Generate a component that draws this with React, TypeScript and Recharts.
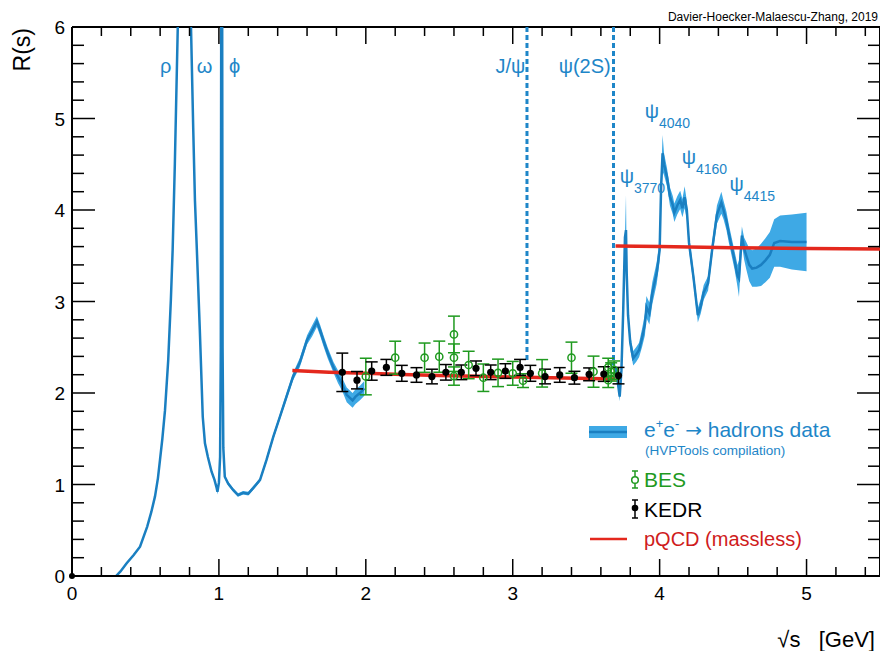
import React from 'react';
import {
  ComposedChart, Line, Area, Scatter, XAxis, YAxis, ErrorBar,
  ReferenceLine, ReferenceDot, Legend,
} from 'recharts';

const FONT = '"Liberation Sans", Arial, Helvetica, sans-serif';
const BLUE_LINE = '#1a7fc1';
const BLUE_BAND = '#3ea9e5';
const BLUE_TEXT = '#1e86c8';
const RED = '#e4281d';
const RED_TEXT = '#cf1c1c';
const GREEN = '#1f9a1f';

// e+e- -> hadrons compilation, low-energy part (sqrt(s) in GeV)
const lowX = [0.30, 0.33, 0.372, 0.42, 0.463, 0.512, 0.54, 0.565, 0.585, 0.599, 0.615, 0.633, 0.655, 0.673, 0.685, 0.70, 0.72, 0.74, 0.76, 0.775, 0.782, 0.786, 0.795, 0.81, 0.825, 0.837, 0.85, 0.87, 0.89, 0.905, 0.925, 0.95, 0.97, 0.985, 0.99, 1.0, 1.008, 1.013, 1.016, 1.019, 1.022, 1.025, 1.03, 1.04, 1.063, 1.097, 1.13, 1.165, 1.2, 1.233, 1.28, 1.324, 1.37, 1.415, 1.46, 1.505, 1.55, 1.6, 1.635, 1.667, 1.69, 1.71, 1.74, 1.78, 1.81, 1.84, 1.87, 1.89, 1.91, 1.93, 1.96, 1.99];
const lowR = [0.0, 0.05, 0.14, 0.23, 0.32, 0.54, 0.7, 0.87, 1.07, 1.27, 1.5, 1.81, 2.36, 3.02, 3.56, 4.5, 6.0, 7.6, 8.7, 9.0, 12.0, 8.6, 7.8, 6.0, 4.9, 4.1, 3.56, 2.69, 1.74, 1.45, 1.3, 1.14, 1.05, 0.96, 0.92, 1.02, 1.3, 2.5, 6.5, 40.0, 6.5, 2.5, 1.4, 1.085, 1.01, 0.94, 0.885, 0.91, 0.9, 0.96, 1.05, 1.27, 1.52, 1.74, 1.96, 2.18, 2.33, 2.58, 2.68, 2.78, 2.68, 2.58, 2.44, 2.28, 2.18, 2.09, 1.98, 1.95, 1.92, 1.96, 2.0, 2.05];
const lowErr = [0.01, 0.01, 0.01, 0.01, 0.01, 0.01, 0.02, 0.02, 0.02, 0.02, 0.02, 0.02, 0.03, 0.03, 0.03, 0.03, 0.05, 0.05, 0.05, 0.05, 0.05, 0.05, 0.05, 0.05, 0.05, 0.04, 0.04, 0.03, 0.03, 0.03, 0.02, 0.02, 0.02, 0.02, 0.03, 0.03, 0.03, 0.03, 0.05, 0.05, 0.05, 0.03, 0.03, 0.02, 0.02, 0.02, 0.02, 0.02, 0.02, 0.02, 0.02, 0.03, 0.03, 0.03, 0.04, 0.04, 0.05, 0.05, 0.06, 0.06, 0.06, 0.06, 0.06, 0.06, 0.07, 0.07, 0.08, 0.08, 0.08, 0.08, 0.08, 0.08];

// charm region
const charmX = [3.70, 3.715, 3.728, 3.74, 3.752, 3.764, 3.771, 3.776, 3.785, 3.80, 3.82, 3.84, 3.86, 3.88, 3.90, 3.91, 3.93, 3.95, 3.98, 4.0, 4.01, 4.02, 4.03, 4.05, 4.07, 4.09, 4.10, 4.12, 4.14, 4.155, 4.17, 4.185, 4.20, 4.23, 4.26, 4.28, 4.30, 4.33, 4.36, 4.39, 4.42, 4.435, 4.455, 4.47, 4.49, 4.51, 4.53, 4.54, 4.56, 4.575, 4.59, 4.61, 4.63, 4.66, 4.69, 4.72, 4.75, 4.78, 4.82, 4.9, 5.0];
const charmR = [2.28, 2.12, 1.96, 2.25, 2.9, 3.7, 3.78, 3.3, 2.85, 2.55, 2.38, 2.42, 2.47, 2.6, 2.75, 2.94, 2.87, 3.09, 3.31, 3.56, 4.25, 4.62, 4.5, 4.36, 4.15, 4.05, 3.97, 4.05, 4.11, 4.02, 4.14, 4.0, 3.64, 3.27, 2.85, 2.95, 3.1, 3.2, 3.6, 3.95, 4.08, 4.0, 3.88, 3.75, 3.6, 3.45, 3.28, 3.25, 3.72, 3.58, 3.5, 3.4, 3.36, 3.37, 3.4, 3.45, 3.51, 3.64, 3.66, 3.65, 3.65];
const charmErr = [0.05, 0.05, 0.05, 0.05, 0.05, 0.05, 0.38, 0.06, 0.06, 0.08, 0.08, 0.08, 0.08, 0.1, 0.12, 0.12, 0.12, 0.12, 0.12, 0.12, 0.12, 0.2, 0.12, 0.1, 0.1, 0.1, 0.1, 0.1, 0.1, 0.1, 0.12, 0.1, 0.08, 0.08, 0.08, 0.08, 0.08, 0.08, 0.08, 0.1, 0.12, 0.1, 0.1, 0.1, 0.1, 0.1, 0.12, 0.2, 0.1, 0.12, 0.15, 0.18, 0.2, 0.21, 0.23, 0.24, 0.25, 0.26, 0.28, 0.3, 0.32];

// BES points
const besX = [2.0, 2.2, 2.4, 2.5, 2.6, 2.6, 2.6, 2.7, 2.8, 2.9, 3.0, 3.07, 3.2, 3.4, 3.55, 3.65, 3.65, 3.67, 3.69];
const besR = [2.18, 2.386, 2.386, 2.397, 2.64, 2.386, 2.185, 2.306, 2.167, 2.22, 2.215, 2.135, 2.215, 2.386, 2.233, 2.28, 2.14, 2.23, 2.25];
const besErr = [0.2, 0.18, 0.16, 0.17, 0.2, 0.15, 0.1, 0.15, 0.15, 0.15, 0.13, 0.075, 0.15, 0.17, 0.17, 0.1, 0.08, 0.1, 0.1];

// KEDR points
const kedrX = [1.84, 1.94, 2.04, 2.14, 2.245, 2.345, 2.45, 2.545, 2.65, 2.75, 2.85, 2.95, 3.05, 3.12, 3.22, 3.32, 3.42, 3.52, 3.62, 3.72];
const kedrR = [2.226, 2.14, 2.24, 2.28, 2.215, 2.197, 2.18, 2.226, 2.226, 2.27, 2.226, 2.24, 2.28, 2.215, 2.18, 2.197, 2.167, 2.204, 2.207, 2.19];
const kedrErr = [0.21, 0.095, 0.1, 0.087, 0.087, 0.08, 0.08, 0.085, 0.08, 0.08, 0.08, 0.08, 0.087, 0.087, 0.08, 0.08, 0.07, 0.07, 0.08, 0.09];

// pQCD (massless)
const pqcdLowX = [1.5, 1.75, 2.0, 2.25, 2.5, 3.0, 3.35, 3.7];
const pqcdLowR = [2.245, 2.228, 2.215, 2.203, 2.192, 2.175, 2.163, 2.153];
const pqcdHighX = [3.7, 4.0, 4.5, 5.0, 5.5];
const pqcdHighR = [3.607, 3.6, 3.588, 3.58, 3.573];

// narrow resonances
const narrowNames = ['J/ψ', 'ψ(2S)'];
const narrowMass = [3.097, 3.686];
const narrowLineEnd = [2.33, 2.3];

const xTicks = [0, 0.2, 0.4, 0.6, 0.8, 1, 1.2, 1.4, 1.6, 1.8, 2, 2.2, 2.4, 2.6, 2.8, 3, 3.2, 3.4, 3.6, 3.8, 4, 4.2, 4.4, 4.6, 4.8, 5, 5.2, 5.4];
const yTicks = [0, 0.2, 0.4, 0.6, 0.8, 1, 1.2, 1.4, 1.6, 1.8, 2, 2.2, 2.4, 2.6, 2.8, 3, 3.2, 3.4, 3.6, 3.8, 4, 4.2, 4.4, 4.6, 4.8, 5, 5.2, 5.4, 5.6, 5.8, 6];

const lowTable = lowX.map((x, i) => ({ x, y: lowR[i], band: [lowR[i] - lowErr[i], lowR[i] + lowErr[i]] }));
const charmTable = charmX.map((x, i) => ({ x, y: charmR[i], band: [charmR[i] - charmErr[i], charmR[i] + charmErr[i]] }));
const besTable = besX.map((x, i) => ({ x, y: besR[i], e: besErr[i] }));
const kedrTable = kedrX.map((x, i) => ({ x, y: kedrR[i], e: kedrErr[i] }));
const pqcdLow = pqcdLowX.map((x, i) => ({ x, y: pqcdLowR[i] }));
const pqcdHigh = pqcdHighX.map((x, i) => ({ x, y: pqcdHighR[i] }));

const PLOT = { left: 72, top: 27, right: 880, bottom: 576 };
const isMajor = (v: number) => Math.abs(v - Math.round(v)) < 1e-6;

function XTick(props: any) {
  const { x, payload } = props;
  const v = payload.value;
  const major = isMajor(v);
  const len = major ? 17 : 9;
  return (
    <g>
      <line x1={x} x2={x} y1={PLOT.bottom} y2={PLOT.bottom - len} stroke="#000" strokeWidth={1.5} />
      <line x1={x} x2={x} y1={PLOT.top} y2={PLOT.top + len} stroke="#000" strokeWidth={1.5} />
      {major && (
        <text x={x} y={PLOT.bottom + 24} textAnchor="middle" fontFamily={FONT} fontSize={19} fill="#000">
          {Math.round(v)}
        </text>
      )}
    </g>
  );
}

function YTick(props: any) {
  const { y, payload } = props;
  const v = payload.value;
  const major = isMajor(v);
  const len = major ? 23 : 12;
  return (
    <g>
      <line x1={PLOT.left} x2={PLOT.left + len} y1={y} y2={y} stroke="#000" strokeWidth={1.5} />
      <line x1={PLOT.right} x2={PLOT.right - len} y1={y} y2={y} stroke="#000" strokeWidth={1.5} />
      {major && (
        <text x={PLOT.left - 7} y={y + 7} textAnchor="end" fontFamily={FONT} fontSize={19} fill="#000">
          {Math.round(v)}
        </text>
      )}
    </g>
  );
}

const openCircle = (p: any) => (
  <circle cx={p.cx} cy={p.cy} r={3.6} fill="none" stroke={GREEN} strokeWidth={1.5} />
);
const fullCircle = (p: any) => <circle cx={p.cx} cy={p.cy} r={3.6} fill="#000" />;

const simpleLabels = [
  { text: 'ρ', x: 0.599, y: 5.5, anchor: 'start' },
  { text: 'ω', x: 0.85, y: 5.5, anchor: 'start' },
  { text: 'ϕ', x: 1.068, y: 5.5, anchor: 'start' },
  { text: narrowNames[0], x: 3.085, y: 5.5, anchor: 'end' },
  { text: narrowNames[1], x: 3.313, y: 5.5, anchor: 'start' },
];
const psiLabels = [
  { sub: '3770', x: 3.728, y: 4.295 },
  { sub: '4040', x: 3.898, y: 5.005 },
  { sub: '4160', x: 4.15, y: 4.503 },
  { sub: '4415', x: 4.476, y: 4.208 },
];

function LegendBox() {
  return (
    <svg width={300} height={140} style={{ overflow: 'visible', display: 'block' }}>
      <rect x={9} y={11} width={38} height={12} fill={BLUE_BAND} />
      <line x1={9} x2={47} y1={17} y2={17} stroke={BLUE_LINE} strokeWidth={2.5} />
      <text x={64} y={22} fontFamily={FONT} fontSize={21} fill={BLUE_TEXT}>
        e<tspan dy={-9} fontSize={13}>+</tspan>
        <tspan dy={9}>e</tspan>
        <tspan dy={-9} fontSize={13}>-</tspan>
        <tspan dy={9}>{' '}</tspan>
        <tspan fontFamily='"DejaVu Sans", sans-serif' fontSize={20}>{'\u2192'}</tspan>
        <tspan>{' hadrons data'}</tspan>
      </text>
      <text x={65} y={40} fontFamily={FONT} fontSize={13.5} fill={BLUE_TEXT}>(HVPTools compilation)</text>

      <line x1={55} x2={55} y1={56} y2={73} stroke={GREEN} strokeWidth={1.5} />
      <line x1={52} x2={58} y1={56} y2={56} stroke={GREEN} strokeWidth={1.5} />
      <line x1={52} x2={58} y1={73} y2={73} stroke={GREEN} strokeWidth={1.5} />
      <circle cx={55} cy={65} r={3.3} fill="#fff" stroke={GREEN} strokeWidth={1.5} />
      <text x={64} y={72} fontFamily={FONT} fontSize={21} fill={GREEN}>BES</text>

      <line x1={55} x2={55} y1={85} y2={103} stroke="#000" strokeWidth={1.5} />
      <line x1={52} x2={58} y1={85} y2={85} stroke="#000" strokeWidth={1.5} />
      <line x1={52} x2={58} y1={103} y2={103} stroke="#000" strokeWidth={1.5} />
      <circle cx={55} cy={93} r={3.3} fill="#000" />
      <text x={64} y={102} fontFamily={FONT} fontSize={21} fill="#000">KEDR</text>

      <line x1={10} x2={47} y1={124} y2={124} stroke={RED} strokeWidth={2.5} />
      <text x={64} y={131} fontFamily={FONT} fontSize={20} fill={RED_TEXT}>pQCD (massless)</text>
    </svg>
  );
}

export default function App() {
  return (
    <div style={{ position: 'absolute', left: 0, top: 0, width: 880, height: 651, background: '#fff' }}>
      <ComposedChart width={880} height={651} margin={{ top: 27, right: 0, left: 0, bottom: 0 }}>
        <XAxis
          dataKey="x" type="number" domain={[0, 5.5]} allowDataOverflow ticks={xTicks} interval={0}
          tick={XTick} tickLine={false} tickSize={0} tickMargin={0} height={75}
          axisLine={{ stroke: '#000', strokeWidth: 2 }}
          label={{
            content: () => (
              <text x={875} y={647} textAnchor="end" fontFamily={FONT} fontSize={22} fill="#000" xmlSpace="preserve">
                {'\u221As   [GeV]'}
              </text>
            ),
          }}
        />
        <YAxis
          type="number" domain={[0, 6]} allowDataOverflow ticks={yTicks} interval={0}
          tick={YTick} tickLine={false} tickSize={0} tickMargin={0} width={72}
          axisLine={{ stroke: '#000', strokeWidth: 2 }}
          label={{
            content: () => (
              <text transform="translate(30,28) rotate(-90)" textAnchor="end" fontFamily={FONT} fontSize={23} fill="#000">
                R(s)
              </text>
            ),
          }}
        />
        <ReferenceLine y={6} stroke="#000" strokeWidth={2} />
        <ReferenceLine x={5.5} stroke="#000" strokeWidth={2} />

        <Area data={lowTable} dataKey="band" type="linear" stroke="none" fill={BLUE_BAND} fillOpacity={1} isAnimationActive={false} />
        <Line data={lowTable} dataKey="y" type="linear" stroke={BLUE_LINE} strokeWidth={2.5} dot={false} isAnimationActive={false} />
        <Area data={charmTable} dataKey="band" type="linear" stroke="none" fill={BLUE_BAND} fillOpacity={1} isAnimationActive={false} />
        <Line data={charmTable} dataKey="y" type="linear" stroke={BLUE_LINE} strokeWidth={2.5} dot={false} isAnimationActive={false} />

        {narrowMass.map((m, i) => (
          <ReferenceLine
            key={narrowNames[i]}
            segment={[{ x: m, y: 6 }, { x: m, y: narrowLineEnd[i] }]}
            stroke={BLUE_TEXT} strokeWidth={3} strokeDasharray="5 3"
          />
        ))}

        <Line data={pqcdLow} dataKey="y" type="linear" stroke={RED} strokeWidth={3.5} dot={false} isAnimationActive={false} />
        <Line data={pqcdHigh} dataKey="y" type="linear" stroke={RED} strokeWidth={3.5} dot={false} isAnimationActive={false} />

        <Scatter data={besTable} dataKey="y" shape={openCircle} isAnimationActive={false}>
          <ErrorBar dataKey="e" direction="y" width={6} stroke={GREEN} strokeWidth={1.5} />
        </Scatter>
        <Scatter data={kedrTable} dataKey="y" shape={fullCircle} isAnimationActive={false}>
          <ErrorBar dataKey="e" direction="y" width={6} stroke="#000" strokeWidth={1.5} />
        </Scatter>

        <ReferenceDot x={0} y={0} r={3} fill="#000" stroke="none" />

        {simpleLabels.map((l) => (
          <ReferenceDot
            key={l.text} x={l.x} y={l.y} r={0}
            shape={(p: any) => (
              <text x={p.cx} y={p.cy} textAnchor={l.anchor} fontFamily={FONT} fontSize={20} fill={BLUE_TEXT}>{l.text}</text>
            )}
          />
        ))}
        {psiLabels.map((l) => (
          <ReferenceDot
            key={l.sub} x={l.x} y={l.y} r={0}
            shape={(p: any) => (
              <text x={p.cx} y={p.cy} fontFamily={FONT} fontSize={20} fill={BLUE_TEXT}>
                ψ<tspan dy={10} fontSize={14}>{l.sub}</tspan>
              </text>
            )}
          />
        ))}
        <ReferenceDot
          x={5.5} y={6} r={0}
          shape={(p: any) => (
            <text x={p.cx - 2} y={p.cy - 6} textAnchor="end" fontFamily={FONT} fontSize={12} fill="#000">
              Davier-Hoecker-Malaescu-Zhang, 2019
            </text>
          )}
        />

        <Legend
          layout="horizontal" verticalAlign="middle" align="center"
          wrapperStyle={{ left: 580, top: 415, width: 300, height: 140 }}
          content={() => <LegendBox />}
        />
      </ComposedChart>
    </div>
  );
}
